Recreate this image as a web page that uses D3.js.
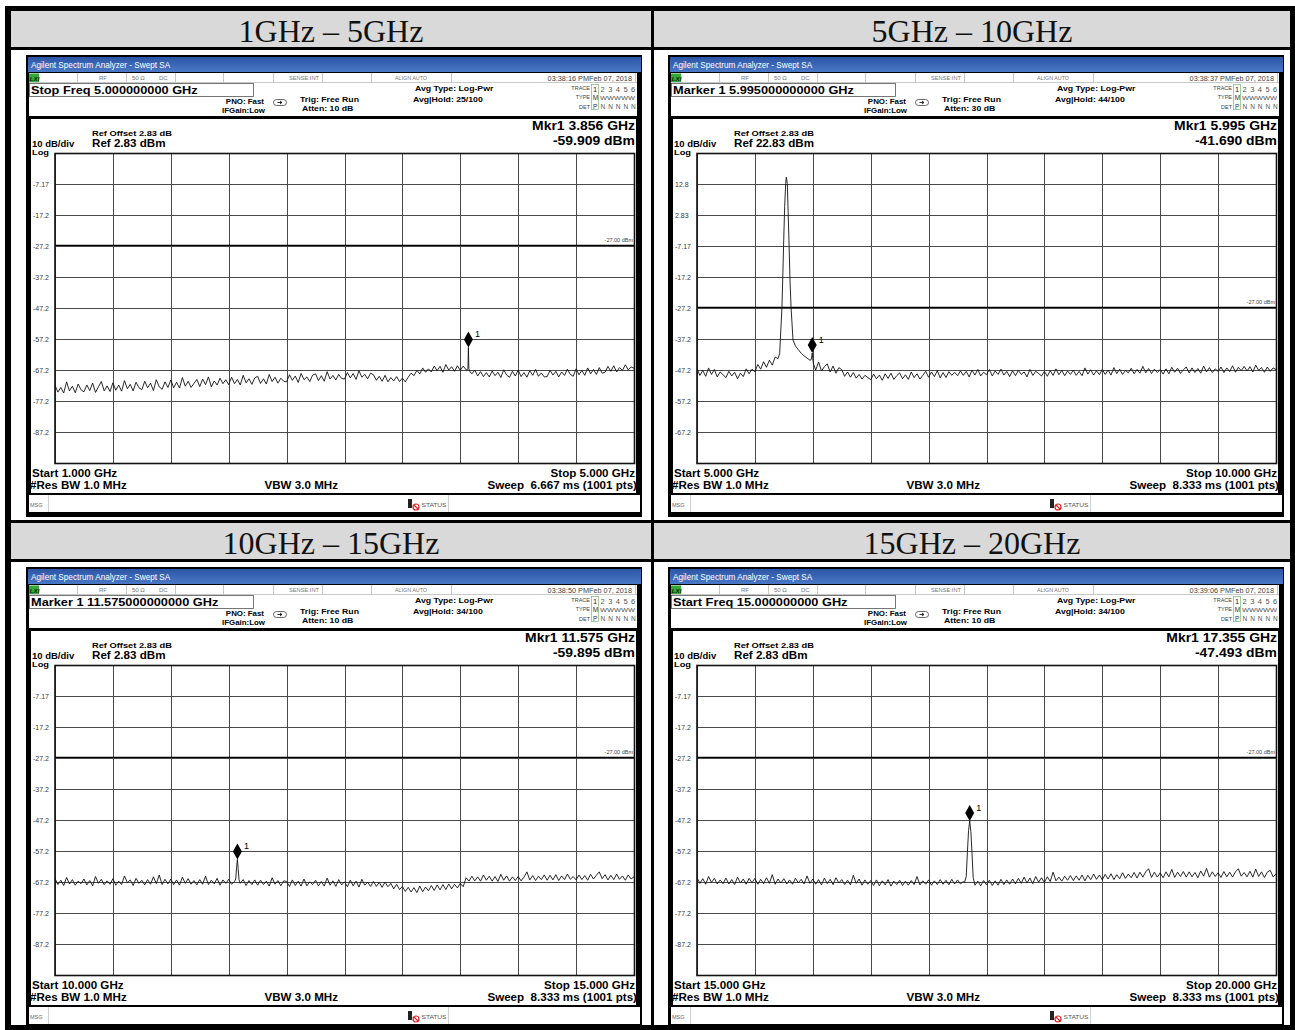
<!DOCTYPE html>
<html>
<head>
<meta charset="utf-8">
<script src="https://cdn.jsdelivr.net/npm/d3@7"></script>
<style>
html,body{margin:0;padding:0;background:#fff;}
svg{display:block;}
text{white-space:pre;}
</style>
</head>
<body>
<svg id="chart" width="1295" height="1030"></svg>
<script>
// ---- band setup ----
const bandTitles = ["1GHz – 5GHz", "5GHz – 10GHz", "10GHz – 15GHz", "15GHz – 20GHz"];
const startGHz = [1, 5, 10, 15];
const stopGHz = [5, 10, 15, 20];
const refLevelDbm = [2.83, 22.83, 2.83, 2.83];
const refOffsetDb = 2.83;
const displayLineDbm = [-27, -27, -27, -27];
const markerGHz = [3.856, 5.995, 11.575, 17.355];
const markerDbm = [-59.909, -41.690, -59.895, -47.493];
const activeField = ["Stop Freq 5.000000000 GHz", "Marker 1 5.995000000000 GHz", "Marker 1 11.575000000000 GHz", "Start Freq 15.000000000 GHz"];
const timeStamps = ["03:38:16 PMFeb 07, 2018", "03:38:37 PMFeb 07, 2018", "03:38:50 PMFeb 07, 2018", "03:39:06 PMFeb 07, 2018"];
const attenDb = [10, 30, 10, 10];
const avgHold = ["25/100", "44/100", "34/100", "34/100"];
const sweepMs = ["6.667", "8.333", "8.333", "8.333"];
const yTickLabels = [
  ["-7.17", "-17.2", "-27.2", "-37.2", "-47.2", "-57.2", "-67.2", "-77.2", "-87.2"],
  ["12.8", "2.83", "-7.17", "-17.2", "-27.2", "-37.2", "-47.2", "-57.2", "-67.2"],
  ["-7.17", "-17.2", "-27.2", "-37.2", "-47.2", "-57.2", "-67.2", "-77.2", "-87.2"],
  ["-7.17", "-17.2", "-27.2", "-37.2", "-47.2", "-57.2", "-67.2", "-77.2", "-87.2"]
];

// ---- sweep traces (dBm, evenly spaced from start to stop) ----
const sweep1 = [
  -72.1,-74.3,-72.8,-74.6,-71.0,-73.9,-72.4,-74.5,-71.7,-73.6,
  -74.2,-72.0,-73.8,-71.4,-74.4,-72.6,-70.9,-73.9,-72.3,-74.1,
  -71.3,-73.7,-72.0,-74.0,-70.6,-73.2,-71.8,-73.9,-71.1,-72.9,
  -73.5,-70.8,-72.9,-71.4,-73.8,-70.3,-72.6,-73.4,-71.0,-72.8,
  -70.4,-72.9,-71.1,-73.0,-69.6,-72.4,-70.8,-72.8,-71.5,-70.2,
  -72.5,-70.1,-71.9,-69.4,-72.6,-70.7,-72.0,-69.8,-71.6,-70.3,
  -71.9,-69.5,-71.6,-70.2,-72.0,-68.9,-71.3,-70.0,-71.8,-69.7,
  -69.2,-71.5,-70.0,-71.7,-68.6,-70.9,-69.5,-71.4,-69.8,-70.8,
  -71.0,-68.7,-70.5,-69.1,-71.2,-68.3,-70.3,-69.4,-70.9,-68.8,
  -68.4,-70.6,-69.0,-70.8,-67.7,-70.1,-68.9,-70.4,-68.6,-69.9,
  -70.1,-68.0,-69.7,-68.3,-70.2,-67.4,-69.5,-68.6,-70.0,-68.2,
  -68.7,-70.5,-69.2,-70.8,-68.9,-71.0,-69.6,-70.7,-69.3,-70.9,
  -69.8,-71.0,-69.5,-68.2,-69.0,-67.3,-68.4,-66.5,-67.9,-66.8,
  -67.8,-65.9,-67.4,-66.0,-67.9,-65.4,-67.2,-66.1,-67.6,-65.8,
  -67.3,-65.9,-67.1,-66.5,-68.4,-67.2,-69.1,-67.7,-69.3,-68.0,
  -69.4,-67.5,-69.0,-67.9,-69.6,-67.1,-68.8,-69.5,-67.6,-69.1,
  -67.2,-69.3,-68.0,-69.5,-67.4,-68.9,-67.0,-69.2,-68.1,-69.4,
  -69.3,-67.3,-68.8,-67.6,-69.4,-67.8,-68.9,-66.9,-68.6,-69.2,
  -66.8,-68.7,-67.3,-68.9,-66.5,-68.4,-67.0,-68.6,-66.4,-68.2,
  -67.9,-66.0,-67.6,-65.8,-67.8,-66.4,-67.3,-65.5,-67.1,-66.2,
  -66.6
];
const sweep2 = [
  -46.8,-48.9,-47.3,-49.2,-46.5,-48.6,-47.0,-49.4,-47.8,-48.7,
  -49.6,-47.6,-49.1,-47.9,-50.0,-48.2,-49.3,-46.8,-48.4,-46.9,
  -47.8,-45.4,-46.9,-44.5,-46.3,-44.0,-45.6,-43.0,-42.5,-33.0,
  -5.2,12.0,-15.0,-36.5,-39.4,-40.6,-41.8,-42.6,-43.3,-44.0,
  -45.0,-47.2,-44.6,-47.5,-46.1,-45.2,-47.8,-45.9,-48.2,-46.4,
  -47.1,-49.2,-47.8,-49.5,-48.0,-49.8,-48.6,-50.1,-48.9,-49.6,
  -50.3,-48.5,-50.0,-48.8,-50.5,-48.4,-49.9,-48.2,-50.2,-49.0,
  -48.1,-50.0,-48.7,-50.2,-47.8,-49.6,-48.4,-50.1,-48.9,-47.6,
  -49.5,-47.8,-49.3,-47.4,-49.7,-48.0,-49.6,-47.7,-48.9,-47.9,
  -49.0,-47.5,-48.9,-47.6,-49.4,-47.2,-48.8,-47.0,-49.1,-47.9,
  -48.7,-47.0,-49.1,-47.5,-48.6,-46.9,-48.8,-47.6,-49.3,-47.4,
  -49.0,-47.3,-48.6,-47.8,-49.4,-47.0,-48.9,-47.6,-48.3,-49.1,
  -47.6,-49.2,-47.4,-48.9,-46.8,-48.7,-47.3,-49.0,-47.5,-48.6,
  -47.2,-48.9,-47.6,-49.0,-46.5,-48.5,-47.1,-48.8,-47.4,-48.7,
  -47.0,-48.6,-47.2,-48.8,-46.4,-48.3,-46.9,-48.6,-47.3,-48.1,
  -46.6,-48.4,-47.0,-48.2,-46.0,-48.1,-46.7,-48.3,-46.9,-48.0,
  -47.0,-48.5,-46.8,-48.4,-46.3,-47.9,-46.6,-48.3,-47.1,-46.2,
  -48.1,-46.5,-48.0,-46.7,-48.2,-45.9,-47.8,-46.4,-48.0,-46.8,
  -47.6,-46.2,-48.0,-46.5,-47.7,-45.8,-47.9,-46.3,-47.4,-46.0,
  -47.5,-46.1,-47.8,-45.6,-47.3,-46.4,-47.9,-46.2,-47.6,-46.5,
  -47.0
];
const sweep3 = [
  -66.0,-68.0,-66.6,-68.3,-65.7,-67.8,-66.4,-68.2,-66.9,-67.7,
  -66.2,-68.1,-66.7,-68.4,-65.4,-67.6,-66.3,-68.0,-66.8,-67.9,
  -66.1,-68.2,-66.9,-68.0,-65.2,-67.4,-66.5,-68.3,-66.0,-67.6,
  -66.6,-68.1,-66.4,-67.9,-65.5,-67.7,-64.9,-68.0,-66.3,-67.8,
  -66.2,-68.0,-66.5,-68.2,-65.6,-67.6,-66.1,-67.9,-66.7,-68.1,
  -66.4,-67.9,-65.3,-68.0,-66.6,-67.8,-66.0,-68.2,-66.5,-67.6,
  -66.3,-67.9,-66.5,-60.5,-68.1,-66.4,-68.3,-66.7,-68.0,-66.5,
  -68.2,-66.6,-68.0,-66.9,-68.5,-65.8,-67.9,-66.7,-68.4,-66.8,
  -67.0,-68.6,-66.5,-68.3,-66.9,-68.5,-66.2,-68.4,-67.1,-68.0,
  -66.6,-68.4,-67.0,-68.5,-65.9,-68.2,-66.8,-68.6,-66.4,-68.1,
  -67.1,-68.7,-66.6,-68.4,-66.9,-68.8,-66.3,-68.2,-67.2,-68.6,
  -67.0,-68.6,-67.3,-68.9,-67.2,-68.7,-67.6,-69.4,-67.9,-69.6,
  -68.6,-70.2,-68.9,-70.4,-69.0,-70.6,-68.5,-70.3,-68.8,-70.0,
  -68.3,-69.9,-68.1,-69.7,-68.0,-69.6,-67.8,-69.4,-67.9,-69.1,
  -67.6,-68.7,-65.8,-66.9,-65.3,-66.8,-65.5,-66.9,-64.9,-66.6,
  -65.3,-66.9,-65.4,-67.0,-64.7,-66.6,-65.2,-66.9,-65.5,-66.7,
  -65.4,-66.8,-65.6,-63.9,-66.5,-65.1,-66.7,-65.3,-66.4,-64.9,
  -66.6,-65.0,-66.5,-64.8,-66.7,-65.2,-66.4,-64.6,-66.3,-65.4,
  -66.5,-64.9,-66.4,-65.1,-66.6,-64.7,-66.2,-65.0,-63.9,-66.1,
  -64.8,-66.5,-65.0,-66.4,-64.6,-66.3,-65.2,-66.6,-64.9,-66.2,
  -65.5
];
const sweep4 = [
  -65.8,-67.6,-66.1,-67.9,-65.4,-67.3,-66.0,-67.8,-66.5,-67.7,
  -65.9,-67.8,-66.4,-68.0,-65.6,-67.5,-66.2,-67.9,-66.0,-67.4,
  -66.0,-67.9,-66.3,-67.7,-65.8,-67.6,-64.8,-67.9,-66.2,-67.5,
  -66.1,-67.8,-66.5,-67.9,-66.0,-67.4,-66.3,-67.8,-65.2,-67.6,
  -66.2,-67.9,-66.4,-68.1,-65.9,-67.7,-66.3,-68.0,-65.8,-67.5,
  -66.4,-68.0,-66.6,-68.1,-65.0,-67.6,-66.2,-68.2,-66.5,-67.9,
  -66.7,-68.3,-66.5,-68.4,-66.8,-68.1,-66.4,-68.5,-66.9,-68.0,
  -66.6,-68.3,-66.9,-68.2,-66.7,-68.0,-65.4,-68.1,-66.8,-67.9,
  -66.5,-68.2,-66.8,-68.0,-66.4,-67.9,-66.6,-68.1,-66.3,-67.8,
  -66.5,-67.8,-67.0,-65.5,-47.6,-57.8,-68.3,-66.9,-68.4,-66.7,
  -68.1,-66.6,-68.3,-66.8,-68.2,-66.3,-68.0,-66.5,-67.9,-66.2,
  -67.8,-66.0,-67.6,-65.6,-67.5,-65.9,-67.7,-65.4,-67.2,-65.8,
  -67.3,-65.5,-67.0,-64.0,-66.8,-65.6,-66.9,-65.3,-66.6,-65.1,
  -66.7,-65.2,-66.6,-64.9,-66.8,-65.0,-66.4,-64.6,-66.3,-64.9,
  -66.5,-64.7,-66.2,-64.5,-66.4,-64.8,-66.1,-64.2,-66.0,-64.6,
  -65.8,-64.1,-65.9,-64.0,-65.6,-63.9,-62.9,-65.7,-64.0,-65.6,
  -64.2,-65.8,-63.9,-65.5,-63.1,-65.7,-64.0,-65.4,-63.8,-65.6,
  -63.9,-65.5,-64.1,-65.8,-63.6,-65.3,-62.8,-65.6,-63.9,-65.4,
  -64.2,-65.7,-63.8,-65.5,-64.0,-65.6,-63.9,-62.9,-65.3,-64.1,
  -65.5,-63.7,-65.6,-63.0,-65.4,-63.9,-65.7,-64.0,-63.4,-65.5,
  -64.6
];

// ---- finely resolved points around signals [GHz, dBm] ----
const detail1 = [[3.848,-67.1],[3.853,-66.6],[3.856,-59.909],[3.859,-66.8],[3.864,-67.5]];
const detail2Tone = [[5.700,-43.5],[5.714,-41.8],[5.734,-26.7],[5.749,-5.2],[5.757,5.5],[5.766,13.0],[5.771,15.0],[5.780,13.0],[5.794,-5.2],[5.803,-18.1],[5.812,-26.7],[5.829,-37.5]];
const detail2Mkr = [[5.985,-43.9],[5.990,-43.0],[5.995,-41.69],[6.000,-43.6],[6.006,-45.2]];
const detail3 = [[11.550,-67.0],[11.561,-66.2],[11.568,-62.6],[11.575,-59.895],[11.582,-62.9],[11.589,-66.4],[11.600,-67.6]];
const detail4 = [[17.310,-67.3],[17.325,-65.4],[17.335,-57.6],[17.345,-50.6],[17.355,-47.493],[17.365,-50.9],[17.375,-57.9],[17.385,-65.7],[17.400,-68.2]];

const sweeps = [sweep1, sweep2, sweep3, sweep4];
const details = [[detail1], [detail2Tone, detail2Mkr], [detail3], [detail4]];

// ---- layout ----
const W = 1295, H = 1030;
const cellCols = [[11, 651], [654, 1290]];
const cellRows = [{head: [11, 47], body: [50, 520]}, {head: [523, 559], body: [562, 1025]}];
const panelOrigin = [[26, 55], [668, 55], [26, 567], [668, 567]];
const SF = 1.16; // width stretch for the instrument's bold screen font
const G = {x0: 29, x1: 608, y0: 98, y1: 408};
const SANS = "'Liberation Sans', Arial, sans-serif";
const SERIF = "'Liberation Serif', 'Times New Roman', serif";

// number formatting with a plain hyphen as minus sign
const loc = d3.formatLocale({decimal: ".", thousands: ",", grouping: [3], currency: ["", ""], minus: "-"});
const fmt3 = loc.format(".3f");
const fmt2 = loc.format(".2f");

const svg = d3.select("#chart");
const defs = svg.append("defs");
const grad = defs.append("linearGradient").attr("id", "titleGrad").attr("x1", 0).attr("y1", 0).attr("x2", 0).attr("y2", 1);
grad.append("stop").attr("offset", "0%").attr("stop-color", "#2c55a6");
grad.append("stop").attr("offset", "100%").attr("stop-color", "#4a78c6");

svg.append("rect").attr("width", W).attr("height", H).attr("fill", "#fff");
svg.append("rect").attr("x", 5).attr("y", 6).attr("width", W - 5).attr("height", H - 6).attr("fill", "#000");

function txt(g, x, y, s, o = {}) {
  const t = g.append("text").attr("x", x).attr("y", y).text(s)
    .style("font-family", o.family || SANS)
    .attr("font-size", o.size || 8)
    .attr("font-weight", o.bold ? "bold" : "normal")
    .attr("fill", o.fill || "#000")
    .attr("text-anchor", o.anchor || "start");
  if (o.italic) t.attr("font-style", "italic");
  if (o.stretch) {
    const L = t.node().getComputedTextLength();
    t.attr("textLength", L * o.stretch).attr("lengthAdjust", "spacingAndGlyphs");
  }
  if (o.len) t.attr("textLength", o.len).attr("lengthAdjust", "spacingAndGlyphs");
  return t;
}

// table cells and band headings
cellRows.forEach((r, ri) => {
  cellCols.forEach((c, ci) => {
    svg.append("rect").attr("x", c[0]).attr("y", r.head[0]).attr("width", c[1] - c[0]).attr("height", r.head[1] - r.head[0]).attr("fill", "#d9d9d9");
    svg.append("rect").attr("x", c[0]).attr("y", r.body[0]).attr("width", c[1] - c[0]).attr("height", r.body[1] - r.body[0]).attr("fill", "#fff");
    txt(svg, (c[0] + c[1]) / 2, r.head[1] - 5.5, bandTitles[ri * 2 + ci], {size: 32, anchor: "middle", family: SERIF, fill: "#111"});
  });
});

function buildTrace(values, start, stop, clusters) {
  const n = values.length;
  let pts = values.map((v, i) => [start + (stop - start) * i / (n - 1), v]);
  clusters.forEach(c => {
    const lo = c[0][0], hi = c[c.length - 1][0];
    pts = pts.filter(p => p[0] < lo || p[0] > hi).concat(c);
  });
  return pts.sort((a, b) => a[0] - b[0]);
}

function drawPanel(i) {
  const [ox, oy] = panelOrigin[i];
  const g = svg.append("g").attr("transform", `translate(${ox},${oy})`);

  // instrument screen frame
  g.append("rect").attr("width", 616).attr("height", 462).attr("fill", "#000");
  g.append("rect").attr("x", 2).attr("y", 2).attr("width", 613).attr("height", 15).attr("fill", "url(#titleGrad)");
  txt(g, 5, 13, "Agilent Spectrum Analyzer - Swept SA", {size: 8.2, fill: "#fff"});

  // status row + settings header
  g.append("rect").attr("x", 3).attr("y", 18).attr("width", 608).attr("height", 43).attr("fill", "#fff");
  g.append("line").attr("x1", 3).attr("x2", 611).attr("y1", 27.5).attr("y2", 27.5).attr("stroke", "#b0b0b0").attr("stroke-width", 0.7);
  [51, 100, 149, 197, 247, 296, 345, 425, 609].forEach(dx => {
    g.append("line").attr("x1", dx + 0.5).attr("x2", dx + 0.5).attr("y1", 18).attr("y2", 27.5).attr("stroke", "#b8b8b8").attr("stroke-width", 0.8);
  });
  g.append("rect").attr("x", 3).attr("y", 18.5).attr("width", 10).attr("height", 8.5).attr("fill", "#35a83a");
  txt(g, 3.8, 25.5, "LXI", {size: 6.2, bold: true, italic: true, fill: "#0b2a0b"});
  txt(g, 77, 25, "RF", {size: 6, fill: "#777", anchor: "middle"});
  txt(g, 106, 25, "50 Ω", {size: 6, fill: "#777"});
  txt(g, 133, 25, "DC", {size: 6, fill: "#777"});
  txt(g, 263, 25, "SENSE:INT", {size: 6, fill: "#777", len: 30});
  txt(g, 369, 25, "ALIGN AUTO", {size: 6, fill: "#777", len: 32});
  txt(g, 606, 25.5, timeStamps[i], {size: 7.3, fill: "#444", anchor: "end"});

  g.append("rect").attr("x", 3.5).attr("y", 28.5).attr("width", 224).attr("height", 13).attr("fill", "none").attr("stroke", "#555").attr("stroke-width", 0.8);
  txt(g, 5, 38.5, activeField[i], {size: 11, bold: true, stretch: SF});

  txt(g, 238, 49, "PNO: Fast", {size: 6.8, bold: true, anchor: "end", stretch: SF});
  txt(g, 239, 58, "IFGain:Low", {size: 6.8, bold: true, anchor: "end", stretch: SF});
  g.append("rect").attr("x", 247.5).attr("y", 44.5).attr("width", 13).attr("height", 6).attr("rx", 3).attr("fill", "#fff").attr("stroke", "#444").attr("stroke-width", 0.8);
  g.append("path").attr("d", "M251.5,47.5 H255.5 M254,46 L256,47.5 L254,49").attr("stroke", "#111").attr("stroke-width", 0.9).attr("fill", "none");
  txt(g, 274, 47, "Trig: Free Run", {size: 7.5, bold: true, stretch: SF});
  txt(g, 276, 56, `Atten: ${attenDb[i]} dB`, {size: 7.5, bold: true, stretch: SF});
  txt(g, 389, 36, "Avg Type: Log-Pwr", {size: 7.5, bold: true, stretch: SF});
  txt(g, 387, 47, `Avg|Hold: ${avgHold[i]}`, {size: 7.5, bold: true, stretch: SF});

  // trace / detector table
  txt(g, 564, 35.3, "TRACE", {size: 5.5, fill: "#444", anchor: "end"});
  txt(g, 564, 44.3, "TYPE", {size: 5.5, fill: "#444", anchor: "end"});
  txt(g, 564, 53.5, "DET", {size: 5.5, fill: "#444", anchor: "end"});
  g.append("rect").attr("x", 565.5).attr("y", 29.5).attr("width", 7).attr("height", 25).attr("fill", "none").attr("stroke", "#7ab87a").attr("stroke-width", 0.7);
  ["1", "2", "3", "4", "5", "6"].forEach((d, k) => txt(g, 567 + 7.6 * k, 36.5, d, {size: 7.5, fill: k === 0 ? "#222" : "#555"}));
  txt(g, 566.8, 44.8, "M", {size: 6.5, fill: "#333"});
  txt(g, 574, 44.8, "WWWWW", {size: 5.5, fill: "#555", len: 35});
  txt(g, 567, 53.8, "P", {size: 6.5, fill: "#333"});
  ["N", "N", "N", "N", "N"].forEach((d, k) => txt(g, 574.6 + 7.6 * k, 53.8, d, {size: 6.5, fill: "#555"}));

  // graph area
  g.append("rect").attr("x", 5).attr("y", 64).attr("width", 605).attr("height", 374).attr("fill", "#fff");
  g.append("rect").attr("x", 3).attr("y", 440).attr("width", 611).attr("height", 17).attr("fill", "#fff");

  const ref = refLevelDbm[i];
  const x = d3.scaleLinear().domain([startGHz[i], stopGHz[i]]).range([G.x0, G.x1]);
  const y = d3.scaleLinear().domain([ref - 100, ref]).range([G.y1, G.y0]);

  txt(g, 66, 81, `Ref Offset ${refOffsetDb} dB`, {size: 8, bold: true, stretch: SF});
  txt(g, 6, 92.3, "10 dB/div", {size: 8.2, bold: true, stretch: SF});
  txt(g, 66, 92.3, `Ref ${ref} dBm`, {size: 10, bold: true, stretch: SF});
  txt(g, 6, 99.5, "Log", {size: 8, bold: true, stretch: SF});
  txt(g, 609, 75, `Mkr1 ${fmt3(markerGHz[i])} GHz`, {size: 12, bold: true, anchor: "end", stretch: SF});
  txt(g, 609, 89.5, `${fmt3(markerDbm[i])} dBm`, {size: 12, bold: true, anchor: "end", stretch: SF});

  // graticule from the scales' axes
  const xDiv = d3.range(11).map(k => startGHz[i] + k * (stopGHz[i] - startGHz[i]) / 10);
  const yDiv = d3.range(11).map(k => ref - 10 * k);
  const gx = g.append("g").attr("transform", `translate(0,${G.y1})`)
    .call(d3.axisBottom(x).tickValues(xDiv).tickSize(-(G.y1 - G.y0)).tickFormat(""));
  const gy = g.append("g").attr("transform", `translate(${G.x0},0)`)
    .call(d3.axisLeft(y).tickValues(yDiv).tickSize(-(G.x1 - G.x0)).tickFormat(""));
  [gx, gy].forEach(a => {
    a.select(".domain").remove();
    a.selectAll(".tick line").attr("stroke", "#4a4a4a").attr("stroke-width", 1).attr("shape-rendering", "crispEdges");
  });

  yTickLabels[i].forEach((lab, k) => {
    txt(g, 7, y(ref - 10 * (k + 1)) + 2.5, lab, {size: 7, fill: "#3a3a3a"});
  });

  // display line
  const dl = displayLineDbm[i];
  g.append("line").attr("x1", G.x0).attr("x2", G.x1).attr("y1", y(dl)).attr("y2", y(dl))
    .attr("stroke", "#000").attr("stroke-width", 1.3);
  txt(g, 607, y(dl) - 3.5, `${fmt2(dl)} dBm`, {size: 5.5, fill: "#444", anchor: "end"});

  // trace
  const clipId = `clip${i}`;
  g.append("clipPath").attr("id", clipId).append("rect")
    .attr("x", G.x0).attr("y", G.y0).attr("width", G.x1 - G.x0).attr("height", G.y1 - G.y0);
  const pts = buildTrace(sweeps[i], startGHz[i], stopGHz[i], details[i]);
  const line = d3.line().x(d => x(d[0])).y(d => y(d[1]));
  g.append("path").attr("d", line(pts)).attr("clip-path", `url(#${clipId})`)
    .attr("fill", "none").attr("stroke", "#111").attr("stroke-width", 0.9).attr("stroke-linejoin", "round");

  // marker 1
  const mx = x(markerGHz[i]), my = y(markerDbm[i]);
  g.append("path").attr("d", `M${mx},${my - 16} L${mx + 4.5},${my - 8} L${mx},${my} L${mx - 4.5},${my - 8} Z`).attr("fill", "#000");
  txt(g, mx + 6.5, my - 10, "1", {size: 9, fill: "#000"});

  // graticule border
  g.append("rect").attr("x", G.x0).attr("y", G.y0 + 0.5).attr("width", G.x1 - G.x0 + 0.5).attr("height", G.y1 - G.y0)
    .attr("fill", "none").attr("stroke", "#111").attr("stroke-width", 1.6);

  // sweep annotations
  txt(g, 6, 421.7, `Start ${fmt3(startGHz[i])} GHz`, {size: 10, bold: true, stretch: SF});
  txt(g, 609, 421.7, `Stop ${fmt3(stopGHz[i])} GHz`, {size: 10, bold: true, anchor: "end", stretch: SF});
  txt(g, 4, 434.3, "#Res BW 1.0 MHz", {size: 10, bold: true, stretch: SF});
  txt(g, 238.5, 434.3, "VBW 3.0 MHz", {size: 10, bold: true, stretch: SF});
  txt(g, 611, 434.3, `Sweep  ${sweepMs[i]} ms (1001 pts)`, {size: 10, bold: true, anchor: "end", stretch: SF});

  // message bar
  txt(g, 4, 451.5, "MSG", {size: 5.5, fill: "#666"});
  [22, 422].forEach(dx => g.append("line").attr("x1", dx + 0.5).attr("x2", dx + 0.5).attr("y1", 440).attr("y2", 457).attr("stroke", "#c4c4c4").attr("stroke-width", 0.8));
  g.append("rect").attr("x", 382).attr("y", 444).attr("width", 4).attr("height", 9).attr("fill", "#222");
  g.append("circle").attr("cx", 390).attr("cy", 452).attr("r", 3).attr("fill", "#fff").attr("stroke", "#e02020").attr("stroke-width", 1.2);
  g.append("line").attr("x1", 388).attr("y1", 450).attr("x2", 392).attr("y2", 454).attr("stroke", "#e02020").attr("stroke-width", 1.1);
  txt(g, 395.5, 451.5, "STATUS", {size: 6, fill: "#555", len: 25});
}

[0, 1, 2, 3].forEach(drawPanel);
</script>
</body>
</html>
